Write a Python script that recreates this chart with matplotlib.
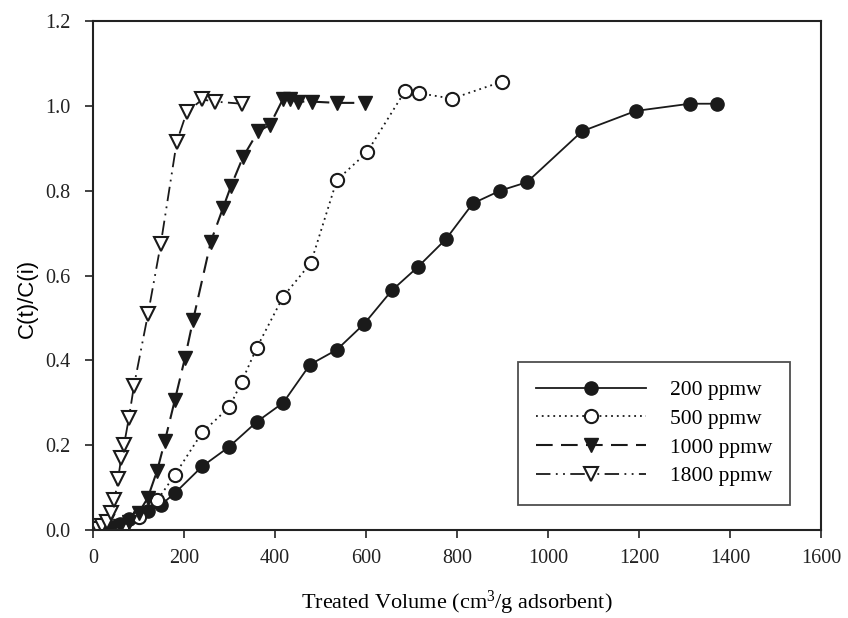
import matplotlib
matplotlib.use("Agg")
import matplotlib.pyplot as plt
from matplotlib.ticker import FormatStrFormatter

# ---- data ----
x_200 = [0, 20, 40, 60, 80, 100, 120, 150, 180, 240, 299, 360, 418, 477, 536, 596,
         657, 714, 776, 835, 895, 954, 1075, 1193, 1312, 1371]
y_200 = [0, 0.003, 0.008, 0.015, 0.025, 0.035, 0.045, 0.06, 0.087, 0.15, 0.196, 0.255,
         0.30, 0.39, 0.425, 0.486, 0.565, 0.62, 0.686, 0.77, 0.80, 0.82, 0.94, 0.988,
         1.005, 1.005]

x_500 = [0, 20, 40, 64, 100, 141, 180, 240, 300, 327, 360, 418, 479, 536, 602, 686,
         716, 789, 899]
y_500 = [0, 0, 0, 0.005, 0.03, 0.07, 0.13, 0.23, 0.29, 0.35, 0.43, 0.55, 0.63, 0.825,
         0.89, 1.035, 1.03, 1.017, 1.057]

x_1000 = [0, 20, 40, 60, 80, 100, 120, 141, 158, 180, 202, 220, 259, 286, 303, 330,
          363, 389, 418, 433, 451, 481, 536, 598]
y_1000 = [0, 0.002, 0.005, 0.01, 0.02, 0.04, 0.075, 0.14, 0.21, 0.307, 0.405, 0.495,
          0.68, 0.76, 0.81, 0.88, 0.94, 0.955, 1.017, 1.015, 1.01, 1.01, 1.007, 1.007]

x_1800 = [0, 10, 20, 30, 40, 47, 55, 62, 68, 79, 90, 121, 149, 184, 206, 240, 268, 327]
y_1800 = [0, 0.003, 0.01, 0.02, 0.04, 0.07, 0.12, 0.17, 0.20, 0.265, 0.34, 0.51,
          0.675, 0.915, 0.985, 1.015, 1.01, 1.005]

labels = ["200 ppmw", "500 ppmw", "1000 ppmw", "1800 ppmw"]
x_ticks = [0, 200, 400, 600, 800, 1000, 1200, 1400, 1600]
y_ticks = [0.0, 0.2, 0.4, 0.6, 0.8, 1.0, 1.2]

serif = ["Liberation Serif", "DejaVu Serif"]
plt.rcParams["font.family"] = serif
plt.rcParams["mathtext.fontset"] = "custom"
plt.rcParams["mathtext.rm"] = "Liberation Serif"
plt.rcParams["mathtext.it"] = "Liberation Serif:italic"
plt.rcParams["mathtext.bf"] = "Liberation Serif:bold"

fig = plt.figure(figsize=(8.48, 6.18), dpi=100)
ax = fig.add_axes([0.1097, 0.1424, 0.968 - 0.1097, 0.966 - 0.1424])

c = "#1a1a1a"
ms = 9.5
ax.plot(x_200, y_200, linestyle="-", color=c, lw=1.3, marker="o", ms=ms,
        mfc=c, mec=c, label=labels[0])
ax.plot(x_500, y_500, linestyle=(0, (1, 2.2)), color=c, lw=1.3, marker="o", ms=ms,
        mfc="white", mec=c, mew=1.5, label=labels[1])
ax.plot(x_1000, y_1000, linestyle=(0, (8, 4)), color=c, lw=1.5, marker="v", ms=ms,
        mfc=c, mec=c, label=labels[2])
ax.plot(x_1800, y_1800, linestyle=(0, (8, 3, 1, 3, 1, 3)), color=c, lw=1.3, marker="v",
        ms=ms, mfc="white", mec=c, mew=1.5, label=labels[3])

ax.set_xlim(0, 1600)
ax.set_ylim(0, 1.2)
ax.set_xticks(x_ticks)
ax.set_yticks(y_ticks)
ax.yaxis.set_major_formatter(FormatStrFormatter("%.1f"))
ax.tick_params(direction="out", length=6, width=1.2, labelsize=14.5, colors="#222222")
ax.tick_params(axis="x", pad=8)
ax.tick_params(axis="y", pad=10)
for s in ax.spines.values():
    s.set_linewidth(1.5)
    s.set_color("#222222")

ax.set_xlabel(r"Treated Volume (cm$^{\mathrm{3}}$/g adsorbent)", fontsize=16)
ax.xaxis.set_label_coords(0.5, -0.116)
ax.set_ylabel("C(t)/C(i)", fontsize=16, family=["Liberation Sans", "DejaVu Sans"])
ax.yaxis.set_label_coords(-0.076, 0.455)

leg = ax.legend(loc="lower right", bbox_to_anchor=(0.958, 0.05), fontsize=15.5,
                handlelength=5.1, handletextpad=1.1, borderpad=0.85, labelspacing=0.4,
                frameon=True, fancybox=False, edgecolor="#222222", borderaxespad=0)
leg.get_frame().set_linewidth(1.3)

fig.savefig("out.png", dpi=100)
